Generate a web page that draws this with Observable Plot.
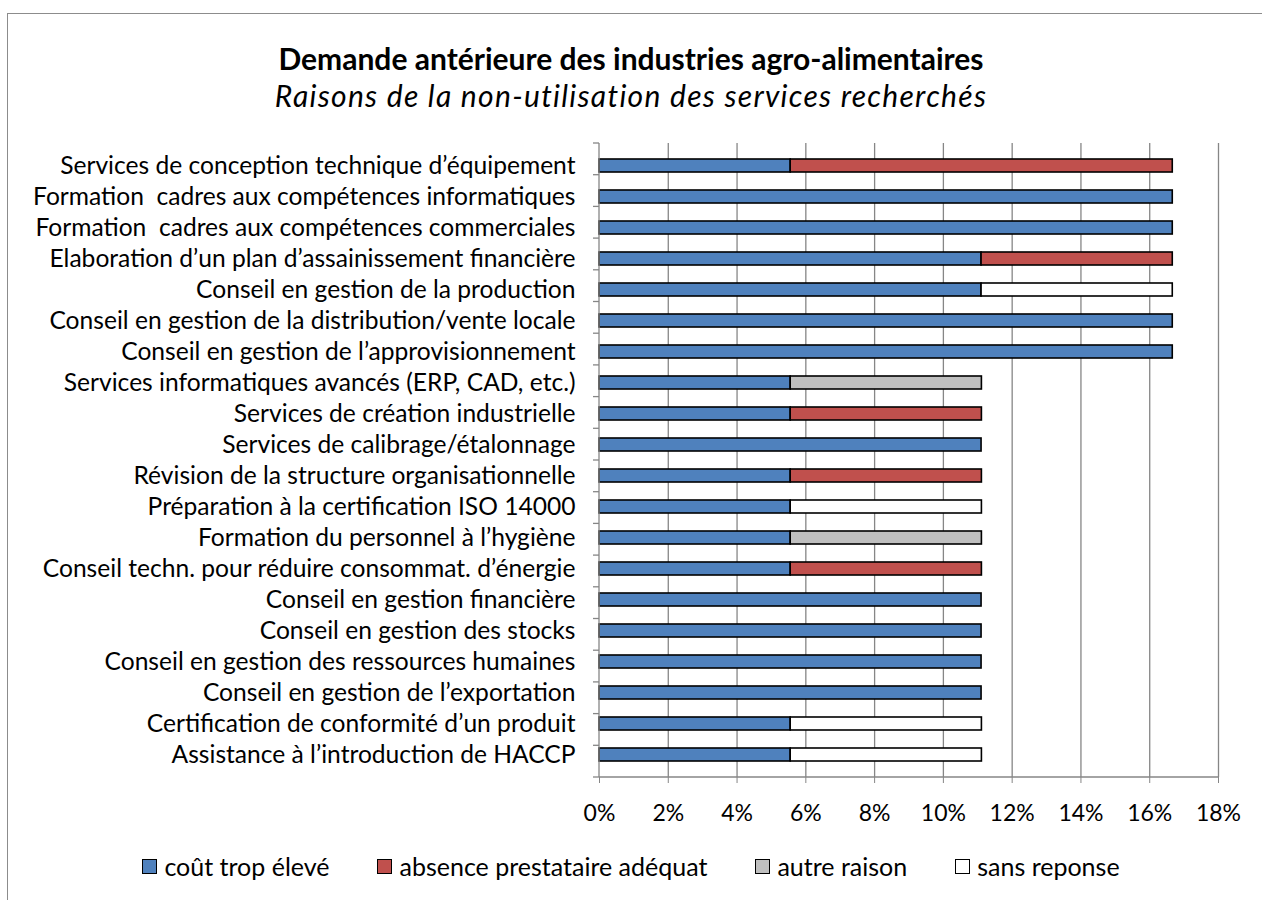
<!DOCTYPE html>
<html><head><meta charset="utf-8">
<script src="https://cdn.jsdelivr.net/npm/d3@7"></script>
<script src="https://cdn.jsdelivr.net/npm/@observablehq/plot@0.6"></script>
<style>
body{margin:0;background:#fff;}
#wrap{position:relative;width:1262px;height:900px;overflow:hidden;font-family:Lato,"Open Sans",sans-serif;color:#000;}
#frame{position:absolute;left:7px;top:13px;width:1400px;height:1000px;border-left:1.5px solid #8c8c8c;border-top:1.5px solid #8c8c8c;}
#title{position:absolute;top:40px;left:0;width:1262px;text-align:center;font-size:30px;font-weight:bold;line-height:36px;}
#subtitle{position:absolute;top:77px;left:0;width:1262px;text-align:center;font-size:30px;font-style:italic;letter-spacing:1.3px;line-height:36px;}
#chart{position:absolute;top:130px;left:0;}
#legend{position:absolute;top:851px;left:0;width:1262px;display:flex;justify-content:center;gap:48px;font-size:25px;line-height:30px;}
.item{display:flex;align-items:center;}
.sw{width:13px;height:13px;border:1.6px solid #000;margin-right:7px;}
</style></head>
<body>
<div id="wrap">
  <div id="frame"></div>
  <div id="title">Demande antérieure des industries agro-alimentaires</div>
  <div id="subtitle">Raisons de la non-utilisation des services recherchés</div>
  <div id="chart"></div>
  <div id="legend"></div>
</div>
<script>
const categories = [
  "Services de conception technique d’équipement",
  "Formation  cadres aux compétences informatiques",
  "Formation  cadres aux compétences commerciales",
  "Elaboration d’un plan d’assainissement financière",
  "Conseil en gestion de la production",
  "Conseil en gestion de la distribution/vente locale",
  "Conseil en gestion de l’approvisionnement",
  "Services informatiques avancés (ERP, CAD, etc.)",
  "Services de création industrielle",
  "Services de calibrage/étalonnage",
  "Révision de la structure organisationnelle",
  "Préparation à la certification ISO 14000",
  "Formation du personnel à l’hygiène",
  "Conseil techn. pour réduire consommat. d’énergie",
  "Conseil en gestion financière",
  "Conseil en gestion des stocks",
  "Conseil en gestion des ressources humaines",
  "Conseil en gestion de l’exportation",
  "Certification de conformité d’un produit",
  "Assistance à l’introduction de HACCP"
];
const coutTropEleve      = [5.56,16.67,16.67,11.11,11.11,16.67,16.67,5.56,5.56,11.11,5.56,5.56,5.56,5.56,11.11,11.11,11.11,11.11,5.56,5.56];
const absencePrestataire = [11.11,0,0,5.56,0,0,0,0,5.56,0,5.56,0,0,5.56,0,0,0,0,0,0];
const autreRaison        = [0,0,0,0,0,0,0,5.56,0,0,0,0,5.56,0,0,0,0,0,0,0];
const sansReponse        = [0,0,0,0,5.56,0,0,0,0,0,0,5.56,0,0,0,0,0,0,5.56,5.56];
const reasons = ["coût trop élevé","absence prestataire adéquat","autre raison","sans reponse"];
const colors = ["#4F81BD","#C0504D","#BFBFBF","#FFFFFF"];
const xTicks = [0,2,4,6,8,10,12,14,16,18];

const series = [coutTropEleve, absencePrestataire, autreRaison, sansReponse];
const table = [];
categories.forEach((c,i) => {
  series.forEach((s,j) => { if (s[i] > 0) table.push({cat:c, reason:reasons[j], value:s[i]}); });
});

function axisLines(index, scales, values, dims) {
  const x0 = dims.marginLeft, x1 = dims.width - dims.marginRight;
  const y0 = dims.marginTop, y1 = dims.height - dims.marginBottom;
  const g = d3.create("svg:g").attr("stroke","#868686").attr("stroke-width",1.3);
  g.append("line").attr("x1",x0).attr("x2",x0).attr("y1",y0).attr("y2",y1);
  g.append("line").attr("x1",x0).attr("x2",x1).attr("y1",y1).attr("y2",y1);
  const n = categories.length, step = (y1 - y0) / n;
  for (let i = 0; i <= n; i++) {
    g.append("line").attr("x1",x0-6).attr("x2",x0).attr("y1",y0+i*step).attr("y2",y0+i*step);
  }
  return g.node();
}

const chart = Plot.plot({
  width: 1262, height: 710,
  marginTop: 13, marginBottom: 63, marginLeft: 599, marginRight: 44,
  style: {fontFamily: "Lato, 'Open Sans', sans-serif", fontSize: "25px", color: "#000", background: "transparent", overflow: "visible"},
  x: {domain: [0, 18]},
  y: {domain: categories, paddingInner: 0.58, paddingOuter: 0.29},
  color: {domain: reasons, range: colors},
  marks: [
    Plot.ruleX(xTicks.slice(1), {stroke: "#868686", strokeWidth: 1.3}),
    Plot.barX(table, Plot.stackX({x: "value", y: "cat", fill: "reason", stroke: "#000", strokeWidth: 1.6})),
    Plot.axisX({ticks: xTicks, tickFormat: d => d + "%", tickSize: 6, tickPadding: 21, stroke: "#868686", fill: "#000", fontSize: 23, label: null}),
    Plot.axisY({tickSize: 0, tickPadding: 24, fill: "#000", fontSize: 24.6, label: null}),
    axisLines
  ]
});
document.getElementById("chart").appendChild(chart);

const legend = document.getElementById("legend");
reasons.forEach((r,i) => {
  const it = document.createElement("div"); it.className = "item";
  const sw = document.createElement("div"); sw.className = "sw"; sw.style.background = colors[i];
  const t = document.createElement("span"); t.textContent = r;
  it.appendChild(sw); it.appendChild(t); legend.appendChild(it);
});
</script>
</body></html>
